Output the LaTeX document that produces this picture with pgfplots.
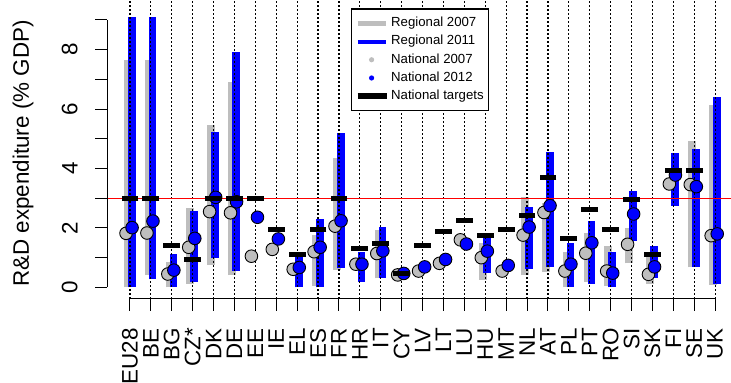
\documentclass[border=0pt]{standalone}
\usepackage{pgfplots}
\pgfplotsset{compat=1.18}
\usepackage{pgfplotstable}
\usepackage{fontspec}
\setmainfont{Liberation Sans}
\definecolor{rgrey}{HTML}{BEBEBE}
\definecolor{rblue}{HTML}{0000FF}
\definecolor{rred}{HTML}{FF0000}

\pgfplotstableread{
i g0 g1 b0 b1 n07 n12 tgt
0 0.00 7.65 0.00 9.10 1.82 2.01 3.00
1 0.41 7.65 0.27 9.10 1.83 2.23 3.00
2 0.00 0.85 0.02 1.12 0.45 0.58 1.42
3 0.13 2.66 0.19 2.58 1.35 1.65 0.94
4 0.75 5.46 0.98 5.24 2.55 3.03 3.00
5 0.41 6.92 0.56 7.93 2.51 2.88 3.00
6 nan nan nan nan 1.05 2.36 3.00
7 nan nan nan nan 1.28 1.63 1.95
8 nan nan 0.00 1.09 0.61 0.67 1.12
9 0.05 1.75 0.00 2.29 1.20 1.35 1.95
10 0.58 4.34 0.64 5.18 2.06 2.24 3.00
11 nan nan 0.19 1.20 0.78 0.78 1.31
12 0.30 1.93 0.30 2.02 1.14 1.23 1.48
13 nan nan nan nan 0.42 0.47 0.47
14 nan nan nan nan 0.55 0.69 1.42
15 nan nan nan nan 0.81 0.94 1.87
16 nan nan nan nan 1.60 1.46 2.24
17 0.25 1.50 0.47 1.75 1.00 1.22 1.76
18 nan nan nan nan 0.55 0.74 1.95
19 0.41 3.05 0.61 2.71 1.76 2.03 2.43
20 0.52 2.84 0.69 4.55 2.52 2.75 3.70
21 0.00 1.20 0.02 1.50 0.55 0.78 1.66
22 0.19 1.82 0.13 2.23 1.15 1.50 2.63
23 0.04 1.39 0.00 1.20 0.55 0.48 1.95
24 0.81 1.99 1.57 3.25 1.45 2.47 2.97
25 0.13 1.03 0.30 1.40 0.44 0.69 1.12
26 nan nan 2.74 4.51 3.48 3.78 3.93
27 0.67 4.94 0.69 4.65 3.46 3.39 3.93
28 0.08 6.14 0.11 6.42 1.74 1.80 nan
}\rd

\begin{document}
\begin{tikzpicture}
\path[use as bounding box] (0pt,0pt) rectangle (365.5pt,191.5pt);
\begin{axis}[
  at={(53.5pt,42pt)}, anchor=south west,
  scale only axis, width=312pt, height=149.5pt,
  xmin=-1.1, xmax=28.76, ymin=-0.39, ymax=9.67,
  clip=false,
  axis lines*=left, axis line style={draw=none},
  tick align=outside, major tick length=6pt,
  tick style={black, line width=0.5pt},
  minor tick num=0,
  xtick={0,...,28},
  xticklabels={EU28,BE,BG,CZ*,DK,DE,EE,IE,EL,ES,FR,HR,IT,CY,LV,LT,LU,HU,MT,NL,AT,PL,PT,RO,SI,SK,FI,SE,UK},
  ytick={0,...,9},
  yticklabels={0,,2,,4,,6,,8,},
  /pgf/number format/assume math mode=true,
  tick label style={font=\fontsize{11.2}{13}\selectfont, inner sep=0pt},
  xticklabel style={rotate=90, anchor=east},
  yticklabel style={rotate=90, anchor=south},
  xticklabel shift=8.4pt,
  yticklabel shift=8.5pt,
  ylabel={R\&D expenditure (\% GDP)},
  ylabel style={at={(axis description cs:-0.1346,0.4866)}, anchor=center, font=\fontsize{11.2}{13}\selectfont},
  legend style={at={(0.391,0.972)}, anchor=north west, draw=black, line width=0.6pt, fill=white,
    font=\fontsize{6.6}{7.8}\selectfont, inner xsep=1.5pt, inner ysep=3.4pt, row sep=1.5pt,
    nodes={inner sep=0.8pt, text height=4.7pt, text depth=1.3pt}},
  legend cell align=left,
]
\addlegendimage{legend image code/.code={\draw[draw=rgrey, line width=2.3pt] (0pt,0pt) -- (14pt,0pt);}}
\addlegendentry{Regional 2007}
\addlegendimage{legend image code/.code={\draw[draw=rblue, line width=2pt] (0pt,0pt) -- (14pt,0pt);}}
\addlegendentry{Regional 2011}
\addlegendimage{legend image code/.code={\path[draw=none, fill=none] (0pt,-1pt) rectangle (14pt,1pt); \fill[fill=rgrey, draw=none] (7pt,0pt) circle (1.3pt);}}
\addlegendentry{National 2007}
\addlegendimage{legend image code/.code={\path[draw=none, fill=none] (0pt,-1pt) rectangle (14pt,1pt); \fill[fill=rblue, draw=none] (7pt,0pt) circle (1.3pt);}}
\addlegendentry{National 2012}
\addlegendimage{legend image code/.code={\draw[draw=black, line width=3pt] (0pt,0pt) -- (14.5pt,0pt);}}
\addlegendentry{National targets}

% regional ranges 2007 (grey) and 2011 (blue)
\addplot[forget plot, draw=none, mark=none,
  error bars/.cd, y dir=plus, y explicit, error mark=none,
  error bar style={draw=rgrey, line width=3.9pt, line cap=butt}]
  table[x expr=\thisrow{i}-0.11, y=g0, y error expr=\thisrow{g1}-\thisrow{g0}] {\rd};
\addplot[forget plot, draw=none, mark=none,
  error bars/.cd, y dir=plus, y explicit, error mark=none,
  error bar style={draw=rblue, line width=3.9pt, line cap=butt}]
  table[x expr=\thisrow{i}+0.08, y=b0, y error expr=\thisrow{b1}-\thisrow{b0}] {\rd};

% dotted category lines
\pgfplotsinvokeforeach{0,...,28}{
  \draw[black, line width=0.6pt, dash pattern=on 1pt off 1pt] (axis cs:#1,-0.39) -- (axis cs:#1,9.67);
}
% 3% reference line
\addplot[forget plot, draw=rred, line width=0.6pt, mark=none] coordinates {(-1.1,3) (28.76,3)};

% national values
\addplot[forget plot, only marks, mark=*, mark size=3.15pt,
  mark options={fill=rgrey, draw=black, line width=0.45pt}]
  table[x expr=\thisrow{i}-0.19, y=n07] {\rd};
\addplot[forget plot, only marks, mark=*, mark size=3.15pt,
  mark options={fill=rblue, draw=black, line width=0.45pt}]
  table[x expr=\thisrow{i}+0.10, y=n12] {\rd};
% national targets
\addplot[forget plot, only marks, mark=-, mark size=4.2pt,
  mark options={draw=black, line width=2.5pt, line cap=butt}]
  table[x=i, y=tgt] {\rd};

% axis lines (R style)
\draw[black, line width=0.5pt] (axis cs:-1.1,0) -- (axis cs:-1.1,9);
\draw[black, line width=0.5pt] (axis cs:0,-0.39) -- (axis cs:28,-0.39);
\end{axis}
\end{tikzpicture}
\end{document}
